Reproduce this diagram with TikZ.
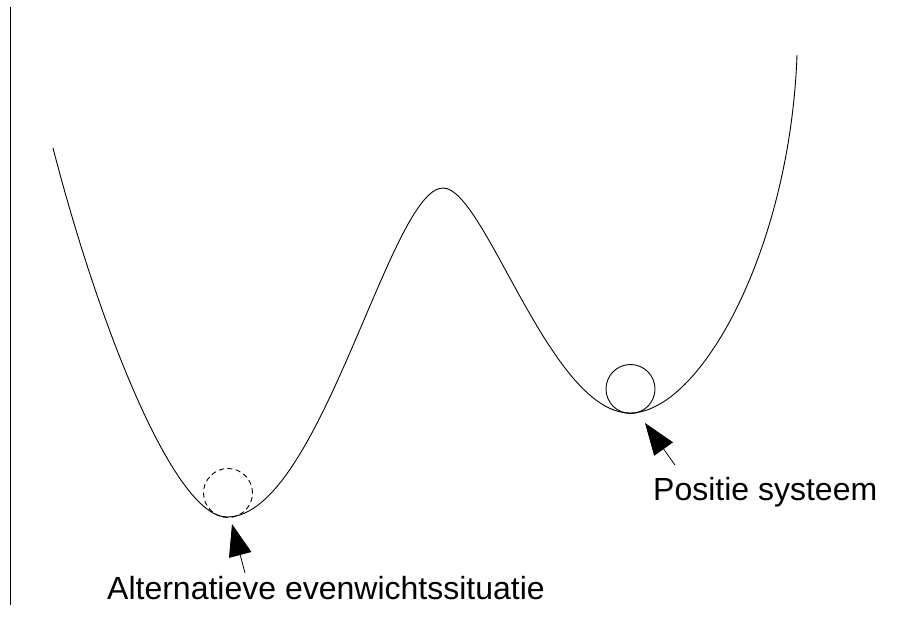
\documentclass[tikz,border=0pt]{standalone}
\usepackage{fontspec}
\setmainfont{Liberation Sans}
\usetikzlibrary{arrows.meta}
\begin{document}
\begin{tikzpicture}[x=1pt,y=-1pt,
  curveline/.style={line width=0.9pt,black},
  ball/.style={circle,draw,line width=0.9pt,minimum size=49pt,inner sep=0pt},
  pointer/.style={line width=0.8pt,-{Triangle[length=32pt,width=23pt]}},
  caption/.style={font=\fontsize{32}{38}\selectfont,inner sep=0pt,anchor=base west}]
\useasboundingbox (0,0) rectangle (897,623);
\draw[line width=0.9pt] (10.7,7) coordinate (axtop) -- (10.7,605) coordinate (axbot);
\coordinate (c0) at (53,148);
\coordinate (m1) at (227,517);
\coordinate (mx) at (443,188);
\coordinate (m2) at (630,413);
\coordinate (c5) at (797,55);
\draw[curveline] (c0) .. controls (100,330) and (175,517) .. (m1)
  .. controls (320,517) and (390,188) .. (mx)
  .. controls (485,188) and (550,413) .. (m2)
  .. controls (700,413) and (790,250) .. (c5);
\node[ball,dash pattern=on 5pt off 3.5pt] (alt) at (228,493) {};
\node[ball] (pos) at (630.5,389) {};
\coordinate (altTip) at (232,524);
\coordinate (altTail) at (245,573);
\coordinate (posTip) at (645,423);
\coordinate (posTail) at (675,465);
\draw[pointer] (altTail) -- (altTip);
\draw[pointer] (posTail) -- (posTip);
\node[caption] (altText) at (107,599) {Alternatieve evenwichtssituatie};
\node[caption] (posText) at (653,500) {Positie systeem};
\end{tikzpicture}
\end{document}
